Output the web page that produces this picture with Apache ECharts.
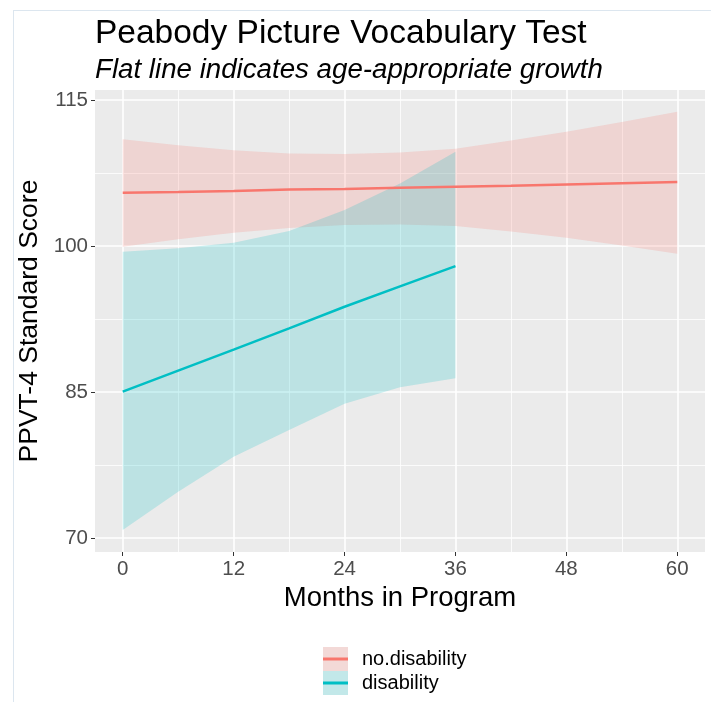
<!DOCTYPE html>
<html>
<head>
<meta charset="utf-8">
<script src="https://cdn.jsdelivr.net/npm/echarts@6/dist/echarts.min.js"></script>
<style>
body{margin:0;background:#fff;}
#wrap{position:relative;width:711px;height:702px;overflow:hidden;}
#frame{position:absolute;left:13px;top:10px;right:-2px;bottom:-2px;border-left:1px solid #dce6ef;border-top:1px solid #dce6ef;}
#ppvt{position:absolute;left:0;top:0;width:711px;height:702px;}
</style>
</head>
<body>
<div id="wrap">
  <div id="frame"></div>
  <div id="ppvt"></div>
</div>
<script type="text/javascript">
// months in program, ribbon (95% CI) and fitted line
var months      = [0, 6, 12, 18, 24, 30, 36, 42, 48, 54, 60];
var noDisFit    = [105.47, 105.55, 105.65, 105.8, 105.85, 105.98, 106.1, 106.2, 106.33, 106.45, 106.57];
var noDisLower  = [99.93, 100.7, 101.35, 101.85, 102.15, 102.2, 102.05, 101.5, 100.85, 100.05, 99.2];
var noDisUpper  = [110.96, 110.35, 109.85, 109.5, 109.45, 109.6, 110.0, 110.85, 111.75, 112.75, 113.8];

var monthsDis   = [0, 6, 12, 18, 24, 30, 36];
var disFit      = [85.03, 87.2, 89.35, 91.54, 93.76, 95.85, 97.94];
var disLower    = [70.81, 74.75, 78.35, 81.1, 83.8, 85.5, 86.4];
var disUpper    = [99.41, 99.76, 100.34, 101.54, 103.7, 106.43, 109.69];

var xTicks  = [0, 12, 24, 36, 48, 60];
var xMinor  = [6, 18, 30, 42, 54];
var yTicks  = [70, 85, 100, 115];
var yMinor  = [77.5, 92.5, 107.5];

var FONT = 'Liberation Sans, Arial, sans-serif';
var RED = '#F8766D', TEAL = '#00BFC4';
// legend key line: thin bar in the middle of a 25x24 box
var KEY_LINE = 'path://M0,0L0,0M0,10.5H25V13.5H0ZM25,24L25,24';

function band(xs, lo, hi, fill) {
    return function (params, api) {
        if (params.dataIndex !== 0) return;
        var pts = [];
        for (var i = 0; i < xs.length; i++) pts.push(api.coord([xs[i], hi[i]]));
        for (var j = xs.length - 1; j >= 0; j--) pts.push(api.coord([xs[j], lo[j]]));
        return {type: 'polygon', shape: {points: pts}, style: {fill: fill}};
    };
}
function rows(xs, a, b) { return xs.map(function (x, i) { return b ? [x, a[i], b[i]] : [x, a[i]]; }); }

var chart = echarts.init(document.getElementById('ppvt'));
var option = {
    animation: false,
    textStyle: {fontFamily: FONT},
    title: [
        {text: 'Peabody Picture Vocabulary Test', left: 90, top: 12,
         textStyle: {fontSize: 33.5, fontWeight: 'normal', color: '#000', fontFamily: FONT}},
        {text: 'Flat line indicates age-appropriate growth', left: 90, top: 51,
         textStyle: {fontSize: 27.7, fontWeight: 'normal', fontStyle: 'italic', color: '#000', fontFamily: FONT}}
    ],
    grid: {left: 95, right: 6, top: 90, bottom: 150, show: true, backgroundColor: '#EBEBEB', borderWidth: 0},
    xAxis: [{
        type: 'value', min: -3, max: 63,
        axisLine: {show: false, onZero: false},
        axisTick: {show: true, customValues: xTicks, length: 4, lineStyle: {color: '#333', width: 1}},
        axisLabel: {customValues: xTicks, color: '#4D4D4D', fontSize: 20.5, margin: 7, fontFamily: FONT},
        splitLine: {show: true, lineStyle: {color: '#fff', width: 1.6}},
        name: 'Months in Program', nameLocation: 'middle', nameGap: 28,
        nameTextStyle: {fontSize: 27.5, color: '#000', fontFamily: FONT}
    }, {
        type: 'value', min: -3, max: 63, position: 'bottom',
        axisLine: {show: false, onZero: false}, axisLabel: {show: false},
        axisTick: {show: false, customValues: xMinor},
        splitLine: {show: true, lineStyle: {color: '#fff', width: 0.8}}
    }],
    yAxis: [{
        type: 'value', min: 68.56, max: 116.03,
        axisLine: {show: false, onZero: false},
        axisTick: {show: true, customValues: yTicks, length: 4, lineStyle: {color: '#333', width: 1}},
        axisLabel: {customValues: yTicks, color: '#4D4D4D', fontSize: 20.5, margin: 7, fontFamily: FONT},
        splitLine: {show: true, lineStyle: {color: '#fff', width: 1.6}},
        name: 'PPVT-4 Standard Score', nameLocation: 'middle', nameGap: 39,
        nameTextStyle: {fontSize: 26.5, color: '#000', fontFamily: FONT}
    }, {
        type: 'value', min: 68.56, max: 116.03, position: 'left',
        axisLine: {show: false, onZero: false}, axisLabel: {show: false},
        axisTick: {show: false, customValues: yMinor},
        splitLine: {show: true, lineStyle: {color: '#fff', width: 0.8}}
    }],
    legend: [{
        orient: 'vertical', left: 323, top: 647, padding: 0, itemGap: 0, itemWidth: 25, itemHeight: 24,
        textStyle: {fontSize: 20, color: '#000', fontFamily: FONT, padding: [0, 0, 0, 9]},
        data: [
            {name: 'no.disability', icon: 'rect', itemStyle: {color: '#F3D9D7', borderWidth: 0}},
            {name: 'disability', icon: 'rect', itemStyle: {color: '#C2E8E9', borderWidth: 0}}
        ]
    }, {
        orient: 'vertical', left: 323, top: 647, padding: 0, itemGap: 0, itemWidth: 25, itemHeight: 24,
        textStyle: {fontSize: 20, color: 'rgba(0,0,0,0)', fontFamily: FONT, padding: [0, 0, 0, 9]},
        data: [
            {name: 'no.disability', icon: KEY_LINE, itemStyle: {color: RED, borderWidth: 0}},
            {name: 'disability', icon: KEY_LINE, itemStyle: {color: TEAL, borderWidth: 0}}
        ]
    }],
    series: [
        {name: 'no.disability', type: 'custom', data: rows(months, noDisLower, noDisUpper),
         renderItem: band(months, noDisLower, noDisUpper, 'rgba(248,118,109,0.2)'), silent: true},
        {name: 'no.disability', type: 'line', data: rows(months, noDisFit), showSymbol: false,
         lineStyle: {color: RED, width: 2.5}, itemStyle: {color: RED}},
        {name: 'disability', type: 'custom', data: rows(monthsDis, disLower, disUpper),
         renderItem: band(monthsDis, disLower, disUpper, 'rgba(0,191,196,0.2)'), silent: true},
        {name: 'disability', type: 'line', data: rows(monthsDis, disFit), showSymbol: false,
         lineStyle: {color: TEAL, width: 2.5}, itemStyle: {color: TEAL}}
    ]
};
chart.setOption(option);
window.onresize = chart.resize;
</script>
</body>
</html>
